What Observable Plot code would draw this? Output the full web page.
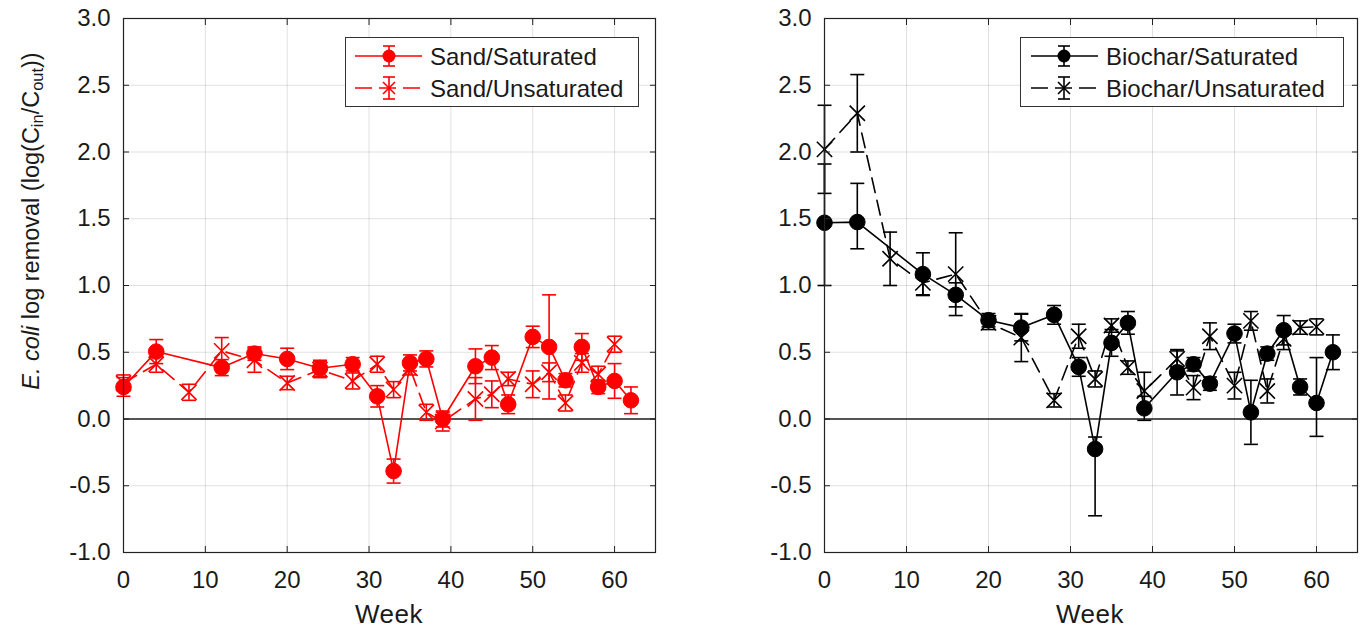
<!DOCTYPE html>
<html>
<head>
<meta charset="utf-8">
<script src="https://cdn.jsdelivr.net/npm/d3@7"></script>
<script src="https://cdn.jsdelivr.net/npm/@observablehq/plot@0.6"></script>
<style>
  body { margin: 0; background: #fff; font-family: "Liberation Sans", Arial, Helvetica, sans-serif; }
  #wrap { position: relative; width: 1361px; height: 632px; overflow: hidden; }
  .panel { position: absolute; top: 0; }
  #ylabel { position: absolute; left: 33px; top: 221px; transform: translate(-50%, -50%) rotate(-90deg);
            white-space: nowrap; font-size: 23.5px; color: #1a1a1a; line-height: 1; }
  #ylabel sub { font-size: 0.7em; vertical-align: -0.25em; }
  .xlabel { position: absolute; top: 601px; font-size: 26px; line-height: 1; color: #1a1a1a; transform: translateX(-50%); white-space: nowrap; letter-spacing: 0.5px; }
  .legend { position: absolute; background: #fff; border: 1.3px solid #333; box-sizing: border-box; }
  .legend svg { position: absolute; left: 0; top: 0; }
  .legend .lab { position: absolute; font-size: 24px; color: #1a1a1a; white-space: nowrap; line-height: 1; transform: translateY(-50%); }
</style>
</head>
<body>
<div id="wrap">
  <div class="panel" id="left" style="left:0"></div>
  <div class="panel" id="right" style="left:680px"></div>
  <div id="ylabel"><i>E. coli</i> log removal (log(C<sub>in</sub>/C<sub>out</sub>))</div>
</div>
<script>
// ---- data ----
const weeksSaturated   = [0, 4, 12, 16, 20, 24, 28, 31, 33, 35, 37, 39, 43, 45, 47, 50, 52, 54, 56, 58, 60, 62];
const weeksUnsaturated = [0, 4, 8, 12, 16, 20, 24, 28, 31, 33, 35, 37, 39, 43, 45, 47, 50, 52, 54, 56, 58, 60];

const sandSatValues = [0.24, 0.505, 0.385, 0.49, 0.45, 0.38, 0.41, 0.17, -0.39, 0.42, 0.45, 0.0, 0.395, 0.46, 0.11, 0.615, 0.54, 0.29, 0.54, 0.24, 0.285, 0.14];
const sandSatErr    = [0.07, 0.09, 0.06, 0.05, 0.08, 0.06, 0.05, 0.08, 0.09, 0.06, 0.06, 0.06, 0.13, 0.09, 0.07, 0.08, 0.39, 0.05, 0.10, 0.05, 0.13, 0.10];

const sandUnsValues = [0.27, 0.41, 0.20, 0.51, 0.44, 0.27, 0.37, 0.285, 0.41, 0.22, 0.38, 0.05, -0.02, 0.15, 0.185, 0.30, 0.26, 0.35, 0.12, 0.42, 0.335, 0.56];
const sandUnsErr    = [0.06, 0.06, 0.06, 0.10, 0.09, 0.05, 0.06, 0.06, 0.06, 0.06, 0.05, 0.06, 0.07, 0.16, 0.10, 0.05, 0.10, 0.07, 0.06, 0.07, 0.06, 0.06];

const biocharSatValues  = [1.47, 1.475, 1.085, 0.93, 0.74, 0.685, 0.78, 0.39, -0.225, 0.57, 0.72, 0.08, 0.35, 0.41, 0.265, 0.64, 0.05, 0.49, 0.665, 0.24, 0.12, 0.50];
const biocharSatErrLow  = [0.47, 0.20, 0.16, 0.09, 0.05, 0.10, 0.07, 0.07, 0.50, 0.10, 0.085, 0.09, 0.17, 0.05, 0.05, 0.07, 0.24, 0.05, 0.11, 0.06, 0.25, 0.13];
const biocharSatErrHigh = [0.44, 0.29, 0.16, 0.09, 0.05, 0.10, 0.07, 0.07, 0.09, 0.10, 0.085, 0.09, 0.17, 0.05, 0.05, 0.07, 0.24, 0.05, 0.11, 0.06, 0.34, 0.13];

const biocharUnsValues = [2.02, 2.29, 1.20, 1.02, 1.085, 0.72, 0.61, 0.14, 0.62, 0.30, 0.70, 0.385, 0.21, 0.45, 0.235, 0.62, 0.25, 0.735, 0.21, 0.60, 0.685, 0.69];
const biocharUnsErr    = [0.33, 0.29, 0.20, 0.09, 0.31, 0.05, 0.18, 0.05, 0.09, 0.06, 0.05, 0.05, 0.14, 0.06, 0.09, 0.10, 0.10, 0.07, 0.09, 0.08, 0.05, 0.06];

const xTicks = [0, 10, 20, 30, 40, 50, 60];
const yTicks = [-1, -0.5, 0, 0.5, 1, 1.5, 2, 2.5, 3];
const seriesNames = ["Sand/Saturated", "Sand/Unsaturated", "Biochar/Saturated", "Biochar/Unsaturated"];
const xLabel = "Week";

// ---- helpers ----
function rows(weeks, values, errLow, errHigh = errLow) {
  return weeks.map((week, i) => ({week, value: values[i], low: values[i] - errLow[i], high: values[i] + errHigh[i]}));
}
const capSymbol = {draw(context, size) { const r = Math.sqrt(size / Math.PI); context.moveTo(-r, 0); context.lineTo(r, 0); }};
const DASH = "15,8";
const LW = 1.6;

function errorMarks(data, color) {
  return [
    Plot.ruleX(data, {x: "week", y1: "low", y2: "high", stroke: color, strokeWidth: LW}),
    Plot.dot(data, {x: "week", y: "low", symbol: capSymbol, r: 7, stroke: color, fill: "none", strokeWidth: LW}),
    Plot.dot(data, {x: "week", y: "high", symbol: capSymbol, r: 7, stroke: color, fill: "none", strokeWidth: LW})
  ];
}

function panel({sat, uns, color, width, marginLeft, marginRight}) {
  return Plot.plot({
    width, height: 632, marginLeft, marginRight, marginTop: 18, marginBottom: 80,
    style: {fontFamily: "'Liberation Sans', Arial, Helvetica, sans-serif", fontSize: "24px", color: "#1a1a1a", background: "transparent", overflow: "visible"},
    x: {domain: [0, 65]},
    y: {domain: [-1, 3]},
    marks: [
      Plot.gridX(xTicks, {stroke: "#000", strokeOpacity: 0.12, strokeWidth: 1}),
      Plot.gridY(yTicks, {stroke: "#000", strokeOpacity: 0.12, strokeWidth: 1}),
      Plot.ruleY([0], {stroke: "#222", strokeWidth: 1.4}),
      Plot.line(sat, {x: "week", y: "value", stroke: color, strokeWidth: LW}),
      Plot.line(uns, {x: "week", y: "value", stroke: color, strokeWidth: LW, strokeDasharray: DASH}),
      ...errorMarks(uns, color),
      ...errorMarks(sat, color),
      Plot.dot(uns, {x: "week", y: "value", symbol: "times", r: 7, stroke: color, fill: "none", strokeWidth: LW}),
      Plot.dot(sat, {x: "week", y: "value", r: 7.8, fill: color, stroke: color, strokeWidth: 1}),
      Plot.frame({stroke: "#222", strokeWidth: 1.2}),
      Plot.axisY(yTicks, {anchor: "left", tickSize: 0, tickPadding: 13, tickFormat: d => d.toFixed(1), label: null}),
      Plot.axisY(yTicks, {anchor: "left", tickSize: 6, insetLeft: 6, fill: "none", label: null, stroke: "#222"}),
      Plot.axisY(yTicks, {anchor: "right", tickSize: 6, insetRight: 6, fill: "none", label: null, stroke: "#222"}),
      Plot.axisX(xTicks, {anchor: "bottom", tickSize: 0, tickPadding: 18, label: null}),
      Plot.axisX(xTicks, {anchor: "bottom", tickSize: 6, insetBottom: 6, fill: "none", label: null, stroke: "#222"}),
      Plot.axisX(xTicks, {anchor: "top", tickSize: 6, insetTop: 6, fill: "none", label: null, stroke: "#222"})
    ]
  });
}

document.getElementById("left").append(panel({
  sat: rows(weeksSaturated, sandSatValues, sandSatErr),
  uns: rows(weeksUnsaturated, sandUnsValues, sandUnsErr),
  color: "#ff0000", width: 680, marginLeft: 123, marginRight: 25
}));
document.getElementById("right").append(panel({
  sat: rows(weeksSaturated, biocharSatValues, biocharSatErrLow, biocharSatErrHigh),
  uns: rows(weeksUnsaturated, biocharUnsValues, biocharUnsErr),
  color: "#000000", width: 681, marginLeft: 144, marginRight: 4
}));

// x-axis titles, centred under each plot frame
[389, 1090].forEach(cx => {
  const d = document.createElement("div");
  d.className = "xlabel";
  d.style.left = cx + "px";
  d.textContent = xLabel;
  document.getElementById("wrap").append(d);
});

// ---- legends ----
function legend({left, top, width, height, names, color, lineX1, lineX2, markX, textX}) {
  const box = document.createElement("div");
  box.className = "legend";
  Object.assign(box.style, {left: left + "px", top: top + "px", width: width + "px", height: height + "px"});
  const ns = "http://www.w3.org/2000/svg";
  const svg = document.createElementNS(ns, "svg");
  svg.setAttribute("width", width); svg.setAttribute("height", height);
  const rowsY = [18, 50];
  const add = (tag, attrs) => { const el = document.createElementNS(ns, tag); for (const k in attrs) el.setAttribute(k, attrs[k]); svg.append(el); return el; };
  rowsY.forEach((cy, i) => {
    const dashed = i === 1;
    add("line", {x1: lineX1, x2: lineX2, y1: cy, y2: cy, stroke: color, "stroke-width": LW, "stroke-dasharray": dashed ? "17,7" : "none"});
    const half = dashed ? 11 : 10;
    add("line", {x1: markX, x2: markX, y1: cy - half, y2: cy + half, stroke: color, "stroke-width": LW});
    add("line", {x1: markX - 6, x2: markX + 6, y1: cy - half, y2: cy - half, stroke: color, "stroke-width": LW});
    add("line", {x1: markX - 6, x2: markX + 6, y1: cy + half, y2: cy + half, stroke: color, "stroke-width": LW});
    if (!dashed) add("circle", {cx: markX, cy, r: 6.5, fill: color});
    else add("path", {d: `M${markX - 6},${cy - 6}L${markX + 6},${cy + 6}M${markX - 6},${cy + 6}L${markX + 6},${cy - 6}`, stroke: color, "stroke-width": LW, fill: "none"});
    const lab = document.createElement("div");
    lab.className = "lab";
    lab.textContent = names[i];
    Object.assign(lab.style, {left: textX + "px", top: (cy + 1) + "px"});
    box.append(lab);
  });
  box.prepend(svg);
  document.getElementById("wrap").append(box);
}
legend({left: 345, top: 37, width: 294, height: 70, names: seriesNames.slice(0, 2), color: "#ff0000", lineX1: 9, lineX2: 76, markX: 43, textX: 84});
legend({left: 1020, top: 37, width: 324, height: 70, names: seriesNames.slice(2, 4), color: "#000000", lineX1: 10, lineX2: 77, markX: 43, textX: 85});
</script>
</body>
</html>
